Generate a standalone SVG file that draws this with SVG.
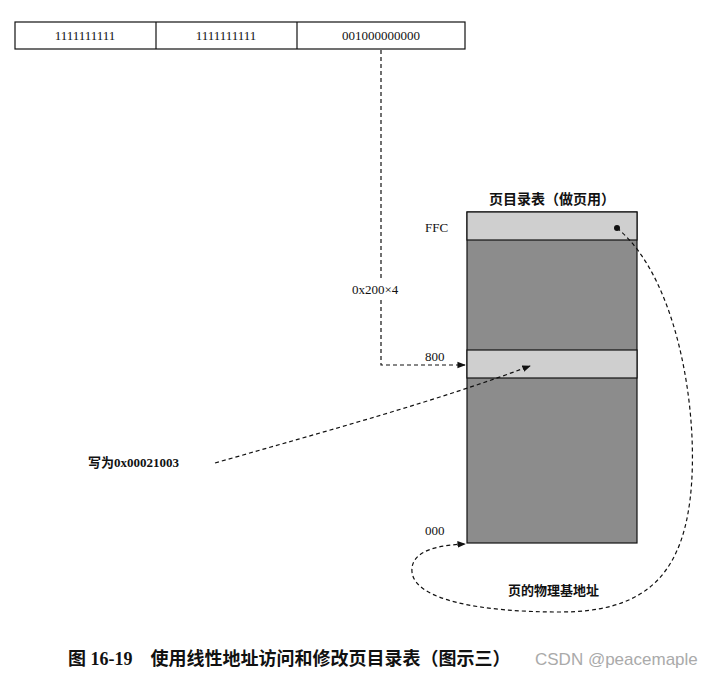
<svg xmlns="http://www.w3.org/2000/svg" width="704" height="680" viewBox="0 0 704 680">
<style>
text{font-family:"Liberation Serif","Noto Sans CJK SC",serif;fill:#111}
.s{font-size:13px}
.c{stroke:#111;stroke-width:1.2;fill:none;stroke-dasharray:4 3}
.b{stroke:#111;stroke-width:1.2}
</style>
<defs><marker id="a" viewBox="0 0 10 10" refX="9" refY="5" markerWidth="7" markerHeight="7" orient="auto"><path d="M0,1 L10,5 L0,9 z" fill="#111"/></marker></defs>
<rect width="704" height="680" fill="#fff"/>
<g id="addr">
<rect x="15" y="22" width="450" height="27" fill="#fff" class="b"/>
<line x1="156" y1="22" x2="156" y2="49" class="b"/>
<line x1="297" y1="22" x2="297" y2="49" class="b"/>
<text x="85" y="40" text-anchor="middle" class="s">1111111111</text>
<text x="226" y="40" text-anchor="middle" class="s">1111111111</text>
<text x="381" y="40" text-anchor="middle" class="s">001000000000</text>
</g>
<g id="table">
<text x="552" y="204" text-anchor="middle" font-size="14" font-weight="bold">页目录表（做页用）</text>
<rect x="467" y="212" width="170" height="331" fill="#8c8c8c" class="b"/>
<rect x="467" y="212" width="170" height="28" fill="#cfcfcf" class="b"/>
<rect x="467" y="350" width="170" height="28" fill="#cfcfcf" class="b"/>
<circle cx="617" cy="228" r="3" fill="#111"/>
<text x="425" y="232" class="s">FFC</text>
<text x="425" y="361" class="s">800</text>
<text x="425" y="535" class="s">000</text>
</g>
<g id="labels">
<text x="352" y="294" class="s">0x200×4</text>
<text x="88" y="467" font-size="13" font-weight="bold">写为0x00021003</text>
<text x="508" y="595" font-size="13" font-weight="bold">页的物理基地址</text>
<text x="68" y="665" font-size="18" font-weight="bold">图 16-19　使用线性地址访问和修改页目录表（图示三）</text>
<text x="535" y="665" font-size="17" style="fill:#aaa;font-family:'Liberation Sans',sans-serif">CSDN @peacemaple</text>
</g>
<g id="connectors">
<path class="c" d="M381,50 V280 M381,300 V365 H465" marker-end="url(#a)"/>
<path class="c" d="M215,463 C330,430 440,400 530,366" marker-end="url(#a)"/>
<path class="c" d="M617,228 C680,280 700,420 690,500 C680,580 640,612 560,612 C480,612 415,600 412,572 C410,550 440,545 465,544" marker-end="url(#a)"/>
</g>
</svg>
